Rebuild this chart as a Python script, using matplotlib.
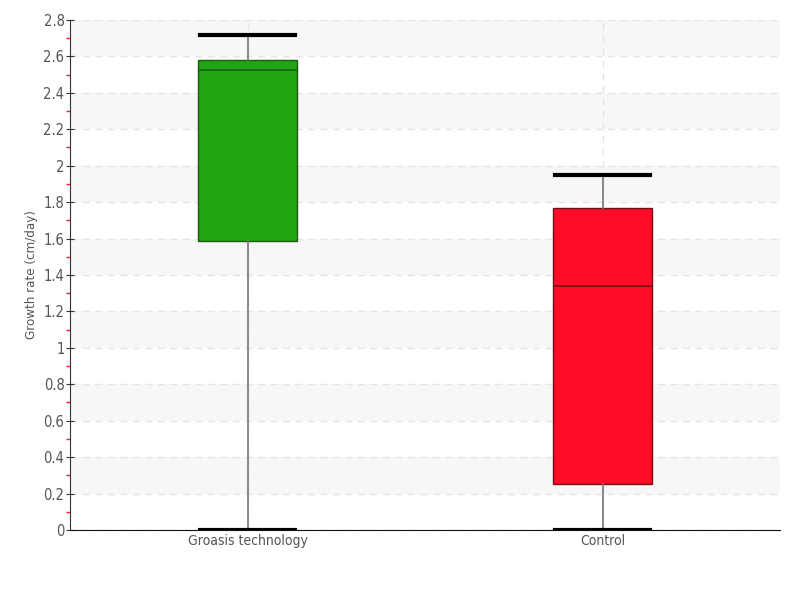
"""Box plot of growth rate: Groasis technology vs control."""

import matplotlib

matplotlib.use("Agg")
import matplotlib.pyplot as plt
from matplotlib.ticker import FuncFormatter, MultipleLocator

plt.rcParams["font.family"] = ["DejaVu Sans"]
plt.rcParams["font.stretch"] = "condensed"
plt.rcParams["font.weight"] = "light"

categories = ["Groasis technology", "Control"]
whisker_low = [0.0, 0.0]
quartile_1 = [1.585, 0.25]
medians = [2.525, 1.34]
quartile_3 = [2.58, 1.765]
whisker_high = [2.715, 1.95]
box_colors = ["#22a512", "#ff0c28"]
edge_colors = ["#1a5c12", "#7a0c18"]

figure = plt.figure(figsize=(8, 6), dpi=100)
axis = figure.add_axes([0.0875, 0.1167, 0.8875, 0.85])

# alternating shaded bands
for low in [0.2, 0.6, 1.0, 1.4, 1.8, 2.2, 2.6]:
    axis.axhspan(low, low + 0.2, color="#f7f7f7", zorder=0, lw=0)

stats = []
for index, name in enumerate(categories):
    stats.append(
        {
            "label": name,
            "whislo": whisker_low[index],
            "q1": quartile_1[index],
            "med": medians[index],
            "q3": quartile_3[index],
            "whishi": whisker_high[index],
            "fliers": [],
        }
    )

parts = axis.bxp(
    stats,
    positions=[0, 1],
    widths=0.28,
    patch_artist=True,
    showfliers=False,
    whiskerprops={"color": "#777777", "linewidth": 1.2},
    capprops={"color": "black", "linewidth": 3},
    capwidths=0.27,
    medianprops={"linewidth": 1.2},
    zorder=3,
)
for index, box in enumerate(parts["boxes"]):
    box.set_facecolor(box_colors[index])
    box.set_edgecolor(edge_colors[index])
    box.set_linewidth(1)
for index, median in enumerate(parts["medians"]):
    median.set_color(edge_colors[index])

axis.set_xlim(-0.5, 1.5)
axis.set_ylim(0, 2.8)
axis.yaxis.set_major_locator(MultipleLocator(0.2))
axis.yaxis.set_minor_locator(MultipleLocator(0.1))
axis.yaxis.set_major_formatter(FuncFormatter(lambda value, _: f"{value:.1f}".rstrip("0").rstrip(".")))

axis.grid(axis="y", which="major", color="#e4e4e4", linestyle=(0, (5, 4)), linewidth=1, zorder=1)
axis.grid(axis="x", which="major", color="#e4e4e4", linestyle=(0, (5, 4)), linewidth=1, zorder=1)
axis.set_axisbelow(True)

for side in ("top", "right"):
    axis.spines[side].set_visible(False)
axis.spines["left"].set_color("#333333")
axis.spines["bottom"].set_color("#111111")

axis.tick_params(axis="y", which="major", direction="inout", length=6, color="#333333",
                 labelsize=10.5, labelcolor="#555555", pad=1)
axis.tick_params(axis="y", which="minor", length=3, width=1, color="#ff2020")
axis.tick_params(axis="x", length=0, labelsize=10, labelcolor="#555555", pad=3)

axis.set_ylabel("Growth rate (cm/day)", fontsize=9.5, color="#555555", labelpad=4)

figure.savefig("out.png", dpi=100)
